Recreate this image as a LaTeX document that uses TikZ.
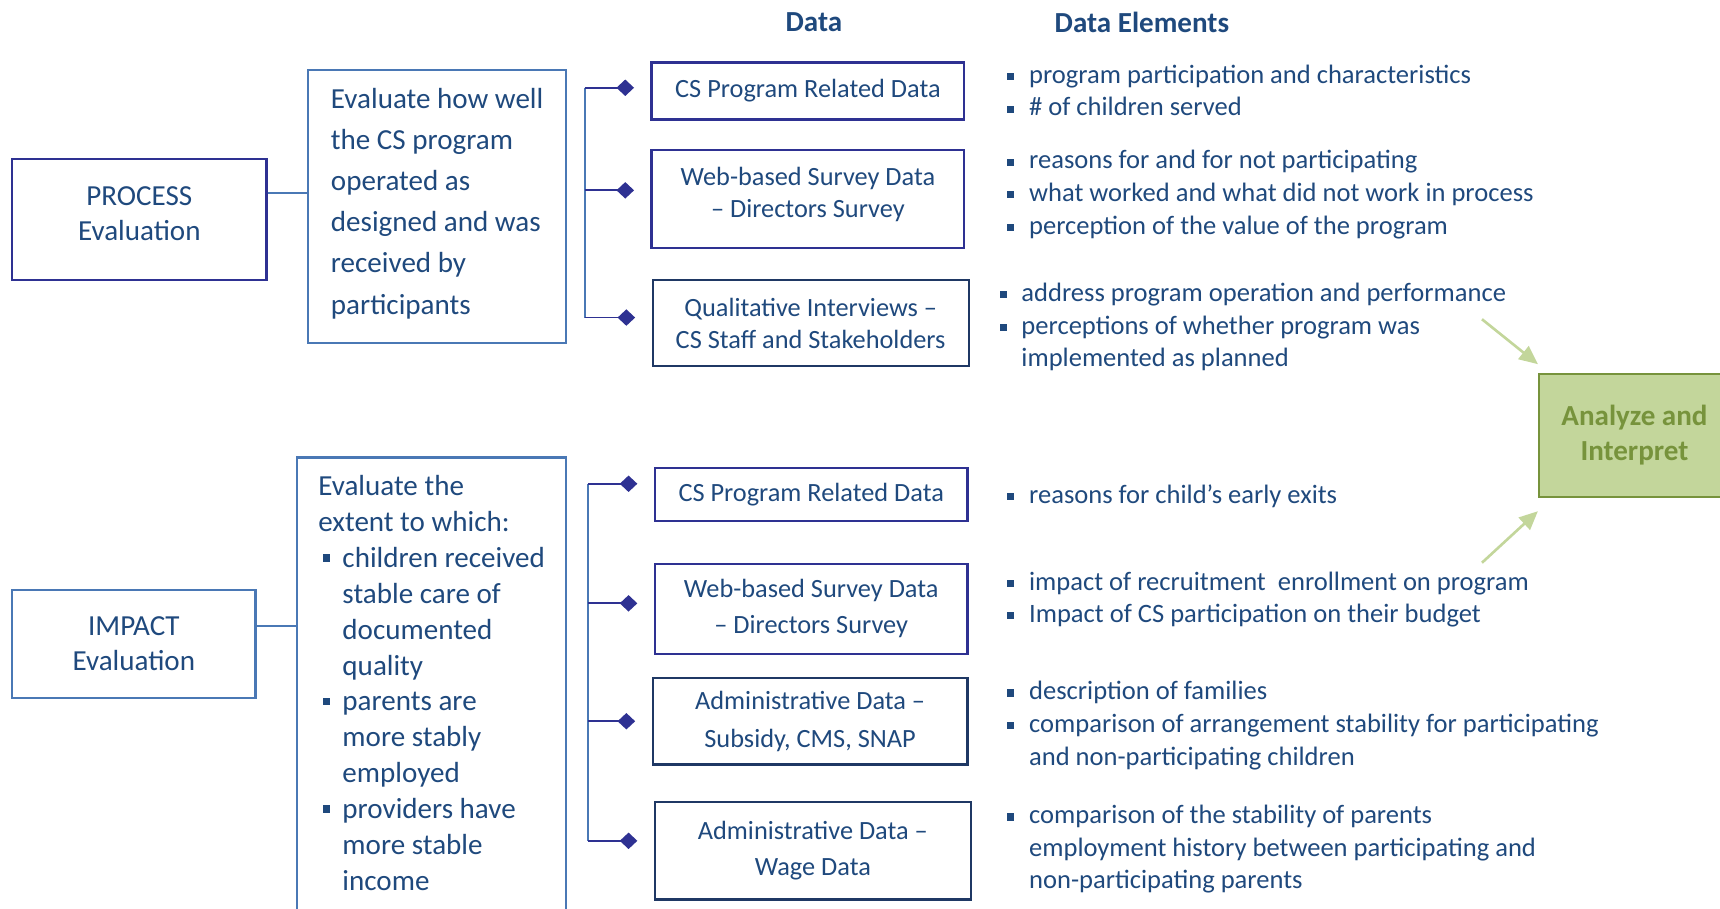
\documentclass[tikz,border=0pt]{standalone}
\usepackage{fontspec}
\setmainfont{Carlito}
\usetikzlibrary{arrows.meta, positioning, calc}
\definecolor{ctext}{HTML}{1F497D}
\definecolor{cindigo}{HTML}{2E3192}
\definecolor{cnavy}{HTML}{1F3864}
\definecolor{csteel}{HTML}{4A78B5}
\definecolor{cleaf}{HTML}{C3D69B}
\definecolor{cleafdark}{HTML}{77933C}
\newcommand{\bul}{\strut\makebox[20pt][l]{\rule[3pt]{6.5pt}{6.5pt}}}
\newcommand{\nobul}{\makebox[20pt]{}}
\newcommand{\dbul}{\makebox[22pt][l]{\hspace{4pt}\rule[5pt]{7pt}{7pt}}}
\newcommand{\dnobul}{\makebox[22pt]{}}
\tikzset{
  every picture/.style={x=1pt, y=-1pt},
  box/.style={draw=#1, line width=2pt, text=ctext, inner sep=0pt},
  box/.default=cindigo,
  evalbox/.style={box=#1, align=center, font=\fontsize{26.5}{32}\selectfont},
  descbox/.style={box=csteel, align=left},
  databox/.style={box=#1, align=center, font=\fontsize{24}{29}\selectfont},
  elem/.style={anchor=north west, align=left, inner sep=0pt, text=ctext, font=\fontsize{24.2}{29.7}\selectfont},
  head/.style={text=ctext, font=\fontsize{26.5}{32}\selectfont\bfseries},
  link/.style={draw=csteel, line width=1.6pt},
  bar/.style={draw=csteel, line width=1.6pt},
  branch/.style={draw=cindigo, line width=1.6pt, -{Diamond[length=16pt, width=15pt]}, shorten >=15pt},
  feed/.style={draw=cleaf, line width=2.4pt, -{Triangle[length=17pt, width=15pt]}},
}
\begin{document}
\begin{tikzpicture}
  \useasboundingbox (0,0) rectangle (1568,828);
  % column heads
  \node[head] (hdata) at (742,20) {Data};
  \node[head] (helem) at (1041,20) {Data Elements};

  % process evaluation
  \node[evalbox=cindigo, minimum width=232pt, minimum height=110pt, text depth=10pt] (process) at (127,200) {PROCESS\\Evaluation};
  \node[descbox, minimum width=235pt, minimum height=249pt, text depth=10.5pt, font=\fontsize{26.5}{37.6}\selectfont] (pdesc) at (398.5,188.5)
    {Evaluate how well\\the CS program\\operated as\\designed and was\\received by\\participants};
  \coordinate (pjoin) at ([yshift=24pt]process.east);
  \draw[link] (pjoin) -- (pjoin -| pdesc.west);

  \node[databox=cindigo, minimum width=285pt, minimum height=52pt] (d1) at (736.5,83) {CS Program Related Data};
  \node[databox=cindigo, minimum width=285pt, minimum height=89pt, text depth=12pt] (d2) at (736.5,181.5) {Web-based Survey Data\\-- Directors Survey};
  \node[databox=cnavy, minimum width=288pt, minimum height=79pt] (d3) at (739,294.5) {Qualitative Interviews --\\CS Staff and Stakeholders};

  \coordinate (pbar) at (533,0);
  \foreach \d/\dy in {d1/3, d2/8, d3/5}
    \path ([yshift=\dy pt]\d.west) coordinate (t\d);
  \draw[bar] (pbar |- td1) -- (pbar |- td3);
  \foreach \d in {d1, d2, d3}
    \draw[branch] (pbar |- t\d) -- (t\d);

  \node[elem] (e1) at (918,55) {\bul program participation and characteristics\\\bul \# of children served};
  \node[elem] (e2) at (918,133) {\bul reasons for and for not participating\\\bul what worked and what did not work in process\\\bul perception of the value of the program};
  \node[elem] (e3) at (911,254) {\bul address program operation and performance\\\bul perceptions of whether program was\\\nobul implemented as planned};

  % impact evaluation
  \node[evalbox=csteel, minimum width=222pt, minimum height=98pt] (impact) at (122,587) {IMPACT\\Evaluation};
  \node[descbox, minimum width=245pt, minimum height=423pt, text depth=12pt, font=\fontsize{26.5}{32.7}\selectfont] (idesc) at (393.5,628.5)
    {Evaluate the\\extent to which:\\\dbul children received\\\dnobul stable care of\\\dnobul documented\\\dnobul quality\\\dbul parents are\\\dnobul more stably\\\dnobul employed\\\dbul providers have\\\dnobul more stable\\\dnobul income};
  \coordinate (ijoin) at ([yshift=16pt]impact.east);
  \draw[link] (ijoin) -- (ijoin -| idesc.west);

  \node[databox=cindigo, minimum width=285pt, minimum height=48pt] (i1) at (739.5,451) {CS Program Related Data};
  \node[databox=cindigo, minimum width=285pt, minimum height=82pt, font=\fontsize{24}{33}\selectfont] (i2) at (739.5,555) {Web-based Survey Data\\-- Directors Survey};
  \node[databox=cnavy, minimum width=287pt, minimum height=79pt, font=\fontsize{24}{35}\selectfont] (i3) at (738.5,657.5) {Administrative Data --\\Subsidy, CMS, SNAP};
  \node[databox=cnavy, minimum width=288pt, minimum height=89pt, font=\fontsize{24}{33}\selectfont] (i4) at (741,775.5) {Administrative Data --\\Wage Data};

  \coordinate (ibar) at (536,0);
  \foreach \d/\dy in {i1/10, i2/5, i3/0, i4/9}
    \path ([yshift=\dy pt]\d.west) coordinate (t\d);
  \draw[bar] (ibar |- ti1) -- (ibar |- ti4);
  \foreach \d in {i1, i2, i3, i4}
    \draw[branch] (ibar |- t\d) -- (t\d);

  \node[elem] (e4) at (918,438) {\bul reasons for child's early exits};
  \node[elem] (e5) at (918,517) {\bul impact of recruitment\ \ enrollment on program\\\bul Impact of CS participation on their budget};
  \node[elem] (e6) at (918,617) {\bul description of families\\\bul comparison of arrangement stability for participating\\\nobul and non-participating children};
  \node[elem] (e7) at (918,730) {\bul comparison of the stability of parents\\\nobul employment history between participating and\\\nobul non-participating parents};

  % both strands feed the analysis
  \node[draw=cleafdark, fill=cleaf, line width=2pt, text=cleafdark, align=center, minimum width=174pt, minimum height=112pt,
    font=\fontsize{26.5}{32}\selectfont\bfseries] (analyze) at (1490,397) {Analyze and\\Interpret};
  \coordinate (g1) at (1351,291);
  \coordinate (g2) at (1351,513);
  \draw[feed] (g1) -- ([yshift=8pt]analyze.north west);
  \draw[feed] (g2) -- ([yshift=-12pt]analyze.south west);
\end{tikzpicture}
\end{document}
